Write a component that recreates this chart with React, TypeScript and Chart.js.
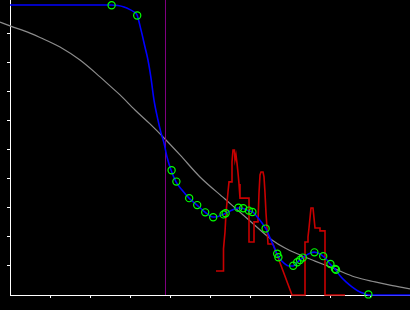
import { useEffect, useRef } from "react";
import { Chart, registerables } from "chart.js";

Chart.register(...registerables);

// Axis ticks (data units)
const X_TICKS = [1, 2, 3, 4, 5, 6, 7, 8, 9];
const Y_TICKS = [1, 2, 3, 4, 5, 6, 7, 8, 9];
const X_MIN = 0;
const X_MAX = 10;
const Y_MIN = 0;
const Y_MAX = 10.172;

// Vertical marker
const CUT_X = 3.8875;

// Blue fitted curve
const fitX = [0, 2.525, 2.7, 2.85, 3.0, 3.1, 3.175, 3.275, 3.375, 3.45, 3.525, 3.6, 3.7, 3.775, 3.85, 3.925, 4.025, 4.15, 4.3, 4.475, 4.675, 4.875, 5.075, 5.2, 5.35, 5.525, 5.7, 5.825, 5.975, 6.075, 6.2, 6.3, 6.4, 6.5, 6.6, 6.675, 6.725, 6.85, 6.975, 7.075, 7.175, 7.25, 7.325, 7.45, 7.6, 7.725, 7.825, 7.925, 8.0, 8.125, 8.25, 8.4, 8.55, 8.7, 8.85, 8.975, 10];
const fitY = [10.0, 10.0, 9.98, 9.93, 9.84, 9.76, 9.66, 9.14, 8.55, 8.1, 7.48, 6.72, 6.03, 5.59, 5.24, 4.76, 4.31, 3.9, 3.62, 3.34, 3.1, 2.86, 2.69, 2.71, 2.79, 2.91, 3.0, 2.98, 2.9, 2.86, 2.66, 2.48, 2.28, 1.97, 1.66, 1.41, 1.28, 1.1, 1.0, 1.0, 1.12, 1.21, 1.29, 1.41, 1.48, 1.43, 1.34, 1.21, 1.07, 0.9, 0.66, 0.45, 0.28, 0.14, 0.05, 0, 0];

// Green sample points
const sampX = [2.54, 3.18, 4.04, 4.16, 4.48, 4.68, 4.88, 5.08, 5.34, 5.39, 5.71, 5.83, 5.97, 6.06, 6.39, 6.68, 6.71, 7.08, 7.18, 7.25, 7.32, 7.61, 7.83, 8.01, 8.125, 8.15, 8.96];
const sampY = [9.99, 9.64, 4.3, 3.91, 3.34, 3.1, 2.85, 2.68, 2.78, 2.82, 3.01, 2.99, 2.91, 2.86, 2.29, 1.42, 1.3, 1.01, 1.13, 1.21, 1.29, 1.47, 1.34, 1.07, 0.9, 0.87, 0.02];

// Red stepped trace
const histX = [5.15, 5.325, 5.325, 5.35, 5.375, 5.4, 5.45, 5.475, 5.525, 5.55, 5.575, 5.61, 5.625, 5.65, 5.675, 5.7, 5.725, 5.75, 5.975, 5.975, 6.1, 6.1, 6.2, 6.225, 6.25, 6.275, 6.325, 6.35, 6.375, 6.4, 6.425, 6.45, 6.575, 7.05, 7.375, 7.375, 7.45, 7.45, 7.475, 7.5, 7.525, 7.575, 7.6, 7.625, 7.75, 7.75, 7.875, 7.875, 8.375];
const histY = [0.83, 0.83, 1.1, 1.59, 2.17, 2.83, 3.55, 3.9, 3.9, 4.59, 5.0, 5.0, 4.66, 4.83, 4.55, 4.21, 3.83, 3.34, 3.34, 1.83, 1.83, 2.52, 2.52, 3.52, 4.14, 4.24, 4.24, 4.07, 3.52, 2.83, 2.31, 1.76, 1.76, 0, 0, 1.83, 1.83, 2.0, 2.31, 2.66, 3.0, 3.0, 2.66, 2.31, 2.31, 2.21, 2.21, 0, 0];

// Grey reference curve
const refX = [-0.25, 0, 0.5, 0.75, 1.25, 1.75, 2.25, 2.5, 2.75, 3.125, 3.5, 3.875, 4.25, 4.75, 5.375, 6.0, 6.55, 6.875, 7.25, 7.625, 8.125, 8.625, 9.125, 9.5, 10];
const refY = [9.41, 9.28, 9.03, 8.88, 8.55, 8.1, 7.52, 7.21, 6.9, 6.38, 5.9, 5.38, 4.83, 4.07, 3.31, 2.55, 1.9, 1.62, 1.38, 1.17, 0.9, 0.62, 0.45, 0.34, 0.21];

const pts = (xs: number[], ys: number[]) => xs.map((x, i) => ({ x, y: ys[i] }));

export default function App() {
  const ref = useRef<HTMLCanvasElement | null>(null);

  useEffect(() => {
    if (!ref.current) return;
    const axisCommon = {
      ticks: { display: false },
      grid: {
        drawOnChartArea: false,
        drawTicks: true,
        tickLength: 3,
        color: "#ffffff",
        lineWidth: 1,
      },
      border: { display: true, color: "#ffffff", width: 1 },
    };
    const chart = new Chart(ref.current, {
      type: "scatter",
      data: {
        datasets: [
          {
            label: "samples",
            data: pts(sampX, sampY),
            showLine: false,
            pointRadius: 3.6,
            pointBorderWidth: 1.2,
            pointBorderColor: "#00ff00",
            pointBackgroundColor: "rgba(0,0,0,0)",
            clip: false,
          },
          {
            label: "fit",
            data: pts(fitX, fitY),
            showLine: true,
            borderColor: "#0000ff",
            borderWidth: 1.6,
            pointRadius: 0,
            cubicInterpolationMode: "monotone",
            clip: false,
          },
          {
            label: "hist",
            data: pts(histX, histY),
            showLine: true,
            borderColor: "#c80000",
            borderWidth: 1.6,
            pointRadius: 0,
            tension: 0,
            clip: false,
          },
          {
            label: "cut",
            data: [
              { x: CUT_X, y: Y_MIN },
              { x: CUT_X, y: Y_MAX },
            ],
            showLine: true,
            borderColor: "#800080",
            borderWidth: 1,
            pointRadius: 0,
            clip: false,
          },
          {
            label: "ref",
            data: pts(refX, refY),
            showLine: true,
            borderColor: "#8c8c8c",
            borderWidth: 1.2,
            pointRadius: 0,
            cubicInterpolationMode: "monotone",
            clip: false,
          },
        ],
      },
      options: {
        animation: false,
        responsive: false,
        devicePixelRatio: 1,
        layout: { padding: 0, autoPadding: false },
        plugins: { legend: { display: false }, tooltip: { enabled: false } },
        scales: {
          x: {
            type: "linear",
            min: X_MIN,
            max: X_MAX,
            afterFit: (s: any) => {
              s.height = 15;
            },
            afterBuildTicks: (s: any) => {
              s.ticks = X_TICKS.map((v) => ({ value: v }));
            },
            ...axisCommon,
          },
          y: {
            type: "linear",
            min: Y_MIN,
            max: Y_MAX,
            afterFit: (s: any) => {
              s.width = 10;
            },
            afterBuildTicks: (s: any) => {
              s.ticks = Y_TICKS.map((v) => ({ value: v }));
            },
            ...axisCommon,
          },
        },
      } as any,
    });
    return () => chart.destroy();
  }, []);

  return (
    <div
      style={{
        position: "fixed",
        left: 0,
        top: 0,
        width: 410,
        height: 310,
        background: "#000000",
      }}
    >
      <canvas ref={ref} width={410} height={310} style={{ width: 410, height: 310, display: "block" }} />
    </div>
  );
}
